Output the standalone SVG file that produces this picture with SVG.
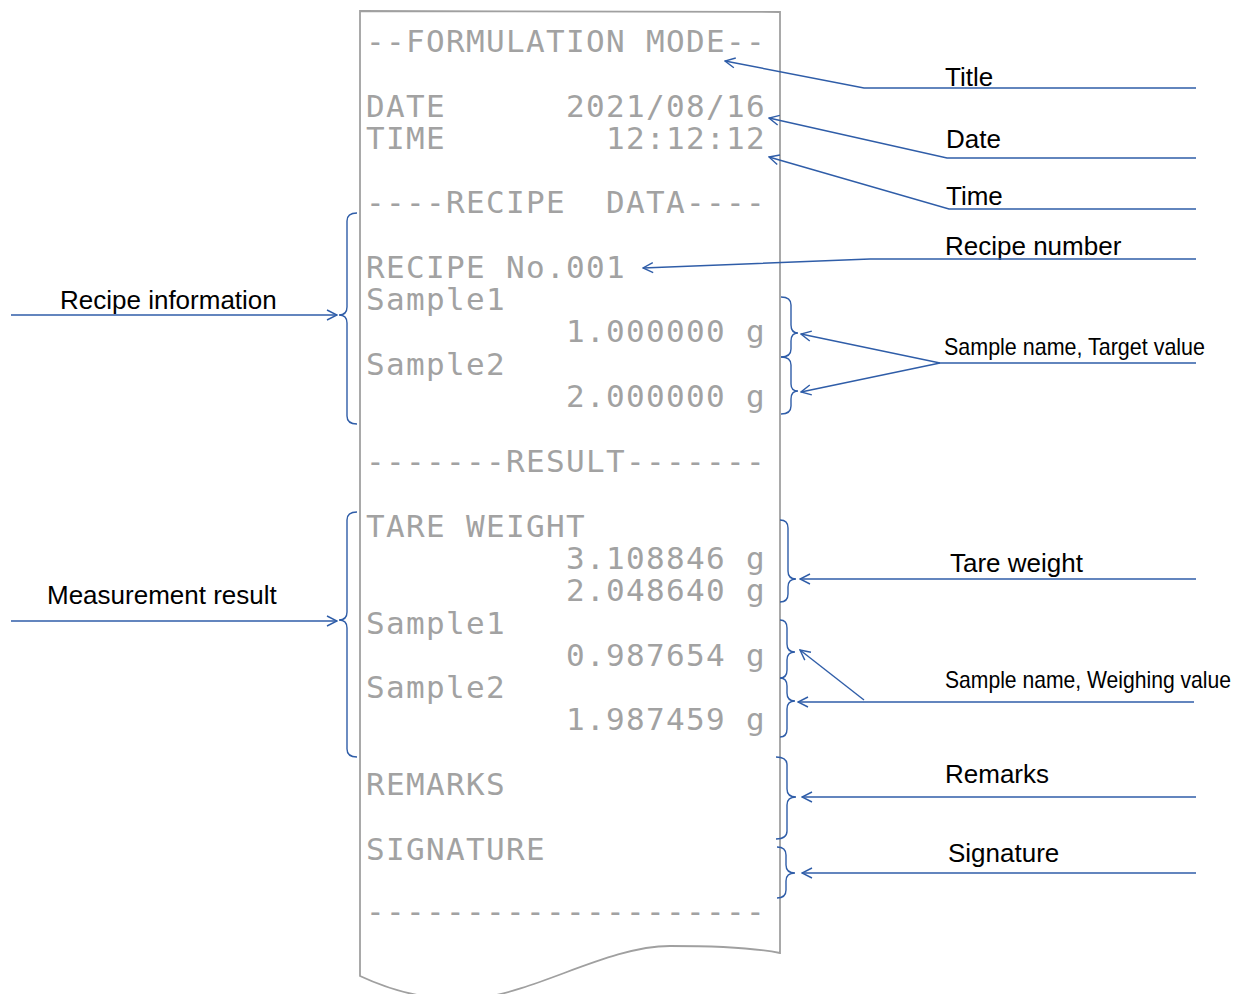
<svg xmlns="http://www.w3.org/2000/svg" width="1237" height="994" viewBox="0 0 1237 994">
<style>
.rc{font-family:"DejaVu Sans Mono","Liberation Mono",monospace;font-size:31px;fill:#a2a2a2;letter-spacing:1.34px}
.lb{font-family:"Liberation Sans",Arial,sans-serif;font-size:26px;fill:#000}
.nl{font-family:"Liberation Sans",Arial,sans-serif;font-size:24px;fill:#000}
.ld{fill:none;stroke:#2F5DA8;stroke-width:1.4;marker-end:url(#ah)}
.br{fill:none;stroke:#2F5DA8;stroke-width:1.4}
.paper{fill:#fff;stroke:#a0a0a0;stroke-width:1.8}
</style>
<defs>
<marker id="ah" markerUnits="userSpaceOnUse" markerWidth="12" markerHeight="12" viewBox="0 0 12 12" refX="11" refY="6" orient="auto">
<path d="M1,1 L11,6 L1,11" fill="none" stroke="#2F5DA8" stroke-width="1.4"/>
</marker>
</defs>
<rect width="1237" height="994" fill="#fff"/>
<g id="receipt">
<path class="paper" d="M360,11 L780,12 L780,953 C755,948 720,946 670,946 C610,946 540,990 480,998 Q420,1004 360,976 Z"/>
<text class="rc" x="366" y="52">--FORMULATION MODE--</text>
<text class="rc" y="117"><tspan x="366">DATE</tspan><tspan x="566">2021/08/16</tspan></text>
<text class="rc" y="149"><tspan x="366">TIME</tspan><tspan x="606">12:12:12</tspan></text>
<text class="rc" y="213"><tspan x="366">----RECIPE</tspan><tspan x="606">DATA----</tspan></text>
<text class="rc" x="366" y="278">RECIPE No.001</text>
<text class="rc" x="366" y="310">Sample1</text>
<text class="rc" x="566" y="342">1.000000 g</text>
<text class="rc" x="366" y="375">Sample2</text>
<text class="rc" x="566" y="407">2.000000 g</text>
<text class="rc" x="366" y="472">-------RESULT-------</text>
<text class="rc" x="366" y="537">TARE WEIGHT</text>
<text class="rc" x="566" y="569">3.108846 g</text>
<text class="rc" x="566" y="601">2.048640 g</text>
<text class="rc" x="366" y="634">Sample1</text>
<text class="rc" x="566" y="666">0.987654 g</text>
<text class="rc" x="366" y="698">Sample2</text>
<text class="rc" x="566" y="730">1.987459 g</text>
<text class="rc" x="366" y="795">REMARKS</text>
<text class="rc" x="366" y="860">SIGNATURE</text>
<text class="rc" x="366" y="922">--------------------</text>
</g>
<g id="label-title"><text class="lb" x="945" y="86">Title</text></g>
<g id="label-date"><text class="lb" x="946" y="148">Date</text></g>
<g id="label-time"><text class="lb" x="946" y="205">Time</text></g>
<g id="label-recipe-number"><text class="lb" x="945" y="255">Recipe number</text></g>
<g id="label-target"><text class="nl" x="944" y="355" textLength="261" lengthAdjust="spacingAndGlyphs">Sample name, Target value</text></g>
<g id="label-tare"><text class="lb" x="950" y="572">Tare weight</text></g>
<g id="label-weighing"><text class="nl" x="945" y="688" textLength="286" lengthAdjust="spacingAndGlyphs">Sample name, Weighing value</text></g>
<g id="label-remarks"><text class="lb" x="945" y="783">Remarks</text></g>
<g id="label-signature"><text class="lb" x="948" y="862">Signature</text></g>
<g id="label-recipe-info"><text class="lb" x="60" y="309">Recipe information</text></g>
<g id="label-measurement"><text class="lb" x="47" y="604">Measurement result</text></g>
<g id="braces">
<path class="br" d="M357,213 Q347,213 347,221 L347,307 Q347,315 339,315 Q347,315 347,323 L347,416 Q347,424 357,424"/>
<path class="br" d="M357,512 Q347,512 347,520 L347,612 Q347,620 339,620 Q347,620 347,628 L347,749 Q347,757 357,757"/>
<path class="br" d="M781,297 Q791,297 791,305 L791,325 Q791,333 798,333 Q791,333 791,341 L791,349 Q791,357 781,357"/>
<path class="br" d="M781,357 Q791,357 791,365 L791,384 Q791,391 798,391 Q791,391 791,399 L791,406 Q791,414 781,414"/>
<path class="br" d="M780,520 Q788,520 788,528 L788,571 Q788,579 796,579 Q788,579 788,587 L788,594 Q788,602 780,602"/>
<path class="br" d="M780,620 Q787,620 787,628 L787,644 Q787,652 795,652 Q787,652 787,660 L787,670 Q787,678 780,678"/>
<path class="br" d="M780,678 Q787,678 787,686 L787,693 Q787,701 795,701 Q787,701 787,709 L787,729 Q787,737 780,737"/>
<path class="br" d="M776,757 Q787,757 787,765 L787,789 Q787,797 796,797 Q787,797 787,805 L787,831 Q787,839 776,839"/>
<path class="br" d="M777,847 Q786,847 786,855 L786,865 Q786,873 795,873 Q786,873 786,881 L786,890 Q786,898 777,898"/>
</g>
<g id="connectors">
<polyline class="ld" points="1196,88 864,88 725,61"/>
<polyline class="ld" points="1196,158 947,158 769,118"/>
<polyline class="ld" points="1196,209 949,209 769,157"/>
<polyline class="ld" points="1196,259 870,259 643,268"/>
<polyline class="ld" points="1196,363 940,363 801,334"/>
<polyline class="ld" points="940,363 801,392"/>
<polyline class="ld" points="1196,579 800,579"/>
<polyline class="ld" points="1194,702 798,702"/>
<polyline class="ld" points="864,700 800,650"/>
<polyline class="ld" points="1196,797 802,797"/>
<polyline class="ld" points="1196,873 802,873"/>
<polyline class="ld" points="11,315 337,315"/>
<polyline class="ld" points="11,621 337,621"/>
</g>
</svg>
